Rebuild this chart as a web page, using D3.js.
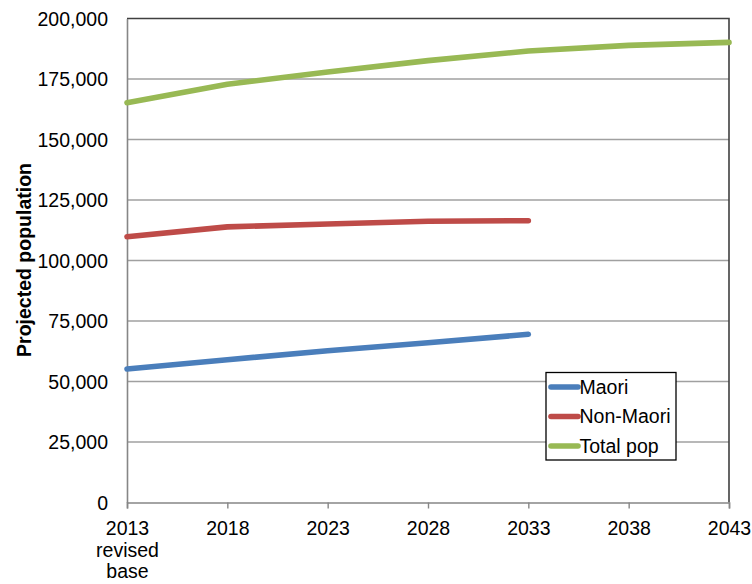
<!DOCTYPE html>
<html>
<head>
<meta charset="utf-8">
<script src="https://cdn.jsdelivr.net/npm/d3@7"></script>
<style>
  body { margin: 0; background: #fff; }
  text { font-family: Arial, "Liberation Sans", sans-serif; fill: #000; }
</style>
</head>
<body>
<div id="chart"></div>
<script>
// categories along the bottom
var years = ['2013', '2018', '2023', '2028', '2033', '2038', '2043']
var yearLabels = [['2013', 'revised', 'base'], ['2018'], ['2023'], ['2028'], ['2033'], ['2038'], ['2043']]

// series values
var maori = [55200, 59000, 62700, 66000, 69500]
var nonMaori = [109800, 113900, 115100, 116200, 116450]
var totalPop = [165200, 172800, 177900, 182600, 186550, 188900, 190150]

var yTicks = [0, 25000, 50000, 75000, 100000, 125000, 150000, 175000, 200000]

var series = [
    { name: 'Maori', values: maori, color: '#4a7ebb' },
    { name: 'Non-Maori', values: nonMaori, color: '#be4b48' },
    { name: 'Total pop', values: totalPop, color: '#98b954' }
]

var svgWidth = 752,
    svgHeight = 584
var margin = { top: 18.5, right: 23, bottom: 81.5, left: 127 }
var width = svgWidth - margin.left - margin.right,
    height = svgHeight - margin.top - margin.bottom

var svg = d3.select('#chart').append('svg')
    .attr('width', svgWidth)
    .attr('height', svgHeight)
    .append('g')
    .attr('transform', 'translate(' + margin.left + ',' + margin.top + ')')

var xScale = d3.scalePoint()
    .domain(years)
    .range([0, width])
    .padding(0)

var yScale = d3.scaleLinear()
    .domain([0, 200000])
    .range([height, 0])

// gridlines
svg.append('g')
    .selectAll('line')
    .data(yTicks.slice(1, -1))
    .join('line')
    .attr('x1', 0)
    .attr('x2', width)
    .attr('y1', d => yScale(d))
    .attr('y2', d => yScale(d))
    .attr('stroke', '#a0a0a0')
    .attr('stroke-width', 1.4)

// plot area border (top and right are dark)
svg.append('path')
    .attr('d', 'M0,0H' + width + 'V' + height)
    .attr('fill', 'none')
    .attr('stroke', '#404040')
    .attr('stroke-width', 1.6)

// y axis
var yAxis = svg.append('g')
    .call(d3.axisLeft(yScale).tickValues(yTicks).tickSize(0).tickPadding(19).tickFormat(d3.format(',')))
yAxis.select('.domain').attr('stroke', '#868686').attr('stroke-width', 1.6)
yAxis.selectAll('text')
    .style('font-size', '19.5px')
    .attr('dy', '0.35em')

// x axis
var xAxis = svg.append('g')
    .attr('transform', 'translate(0,' + height + ')')
    .call(d3.axisBottom(xScale).tickSize(6).tickFormat(''))
xAxis.select('.domain').attr('stroke', '#868686').attr('stroke-width', 1.6)
xAxis.selectAll('.tick line').attr('stroke', '#868686').attr('stroke-width', 1.4)

xAxis.selectAll('.tick')
    .append('text')
    .attr('text-anchor', 'middle')
    .style('font-size', '19.5px')
    .selectAll('tspan')
    .data((d, i) => yearLabels[i])
    .join('tspan')
    .attr('x', 0)
    .attr('y', (d, i) => 32.5 + i * 21.5)
    .text(d => d)

// y label
svg.append('text')
    .attr('text-anchor', 'middle')
    .attr('transform', 'rotate(-90)')
    .attr('x', -(260 - margin.top))
    .attr('y', 31 - margin.left)
    .style('font-size', '19.5px')
    .style('font-weight', 'bold')
    .text('Projected population')

// lines
var line = d3.line()
    .x((d, i) => xScale(years[i]))
    .y(d => yScale(d))

svg.selectAll('.series')
    .data(series)
    .join('path')
    .attr('class', 'series')
    .attr('d', d => line(d.values))
    .attr('fill', 'none')
    .attr('stroke', d => d.color)
    .attr('stroke-width', 5.6)
    .attr('stroke-linecap', 'round')
    .attr('stroke-linejoin', 'round')

// legend
var legend = svg.append('g')
    .attr('transform', 'translate(' + (546 - margin.left) + ',' + (372.5 - margin.top) + ')')

legend.append('rect')
    .attr('width', 130)
    .attr('height', 87.5)
    .attr('fill', '#fff')
    .attr('stroke', '#000')
    .attr('stroke-width', 1.3)

var items = legend.selectAll('.item')
    .data(series)
    .join('g')
    .attr('class', 'item')
    .attr('transform', (d, i) => 'translate(0,' + (14.5 + i * 29.5) + ')')

items.append('line')
    .attr('x1', 5)
    .attr('x2', 32)
    .attr('stroke', d => d.color)
    .attr('stroke-width', 5.6)
    .attr('stroke-linecap', 'round')

items.append('text')
    .attr('x', 33.5)
    .attr('dy', '0.35em')
    .style('font-size', '19.5px')
    .text(d => d.name)
</script>
</body>
</html>
